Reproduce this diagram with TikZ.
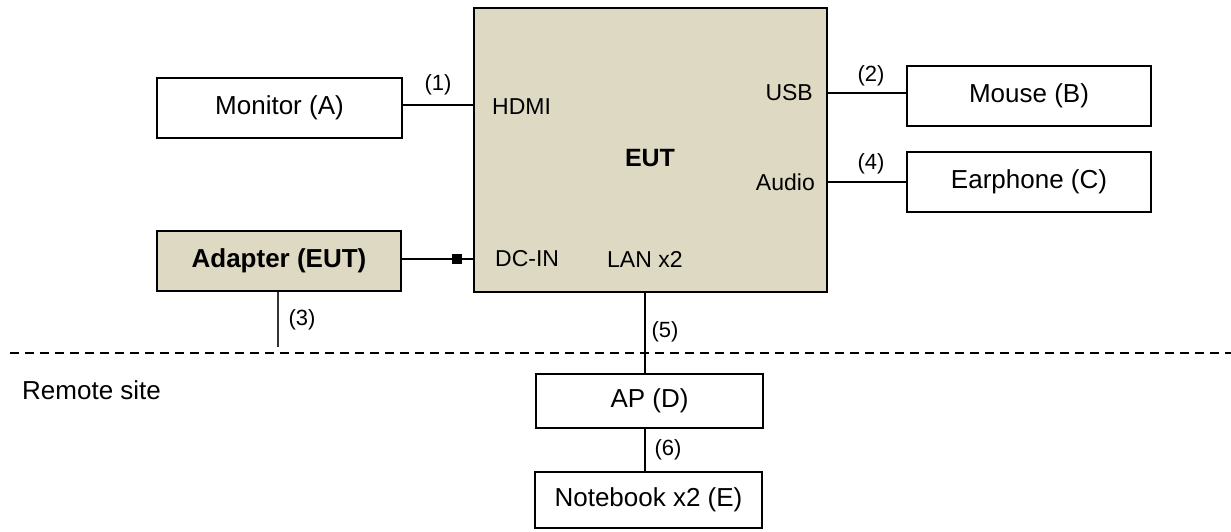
\documentclass[tikz,border=0pt]{standalone}
\usepackage{fontspec}
\setmainfont{Liberation Sans}
\definecolor{tan}{HTML}{DDD9C3}
\begin{document}
\begin{tikzpicture}[x=1pt,y=-1pt,
  devbox/.style={draw=black, line width=2pt, minimum width=#1, minimum height=60pt,
                 inner sep=0pt, font=\fontsize{26}{30}\selectfont},
  devbox/.default=245pt,
  eutbox/.style={devbox, fill=tan},
  link/.style={draw=black, line width=1.4pt},
  num/.style={inner sep=0pt, font=\fontsize{22}{26}\selectfont},
  port/.style={inner sep=0pt, font=\fontsize{23}{27}\selectfont},
]
\useasboundingbox (0,0) rectangle (1231,531);

% main unit
\node[eutbox, minimum width=353pt, minimum height=284pt] (eut) at (650.5,150) {};
\node[inner sep=0pt, font=\fontsize{25}{29}\selectfont\bfseries] (eutlbl) at (650,158) {EUT};
\node[port, anchor=west] (hdmi) at (492,107) {HDMI};
\node[port, anchor=east] (usb) at (813,93) {USB};
\node[port, anchor=east] (audio) at (815,182) {Audio};
\node[port, anchor=west] (dcin) at (495,259) {DC-IN};
\node[port, anchor=west] (lan) at (607,259) {LAN x2};

% peripherals
\node[devbox] (mon) at (279.5,108) {Monitor (A)};
\node[eutbox, minimum width=244pt, font=\fontsize{26}{30}\selectfont\bfseries] (adp) at (279,261) {Adapter (EUT)};
\node[devbox=244pt] (mouse) at (1029,96) {Mouse (B)};
\node[devbox=244pt] (ear) at (1029,182) {Earphone (C)};
\node[devbox=227pt, minimum height=54pt] (ap) at (649.5,401) {AP (D)};
\node[devbox=227pt, minimum height=56pt] (nb) at (648.5,500) {Notebook x2 (E)};

% site separator
\draw[line width=2pt, dash pattern=on 9pt off 6pt] (10,353) -- (1231,353);
\node[anchor=west, inner sep=0pt, font=\fontsize{26}{30}\selectfont] (remote) at (22,390) {Remote site};

% cables
\draw[link] ([yshift=3pt]mon.east) -- ([yshift=3pt]mon.east -| eut.west);
\node[num] (n1) at (438,85) {(1)};

\draw[link] (mouse.west |- usb) -- (usb -| eut.east);
\node[num] (n2) at (871,76) {(2)};

\draw[link] (ear.west) -- (ear.west -| eut.east);
\node[num] (n4) at (871,164) {(4)};

\draw[link] ([yshift=2pt]adp.east) -- ([yshift=2pt]adp.east -| eut.west);
\node[fill=black, minimum size=10pt, inner sep=0pt] (plug) at ([xshift=-16pt, yshift=2pt]adp.east -| eut.west) {};

\coordinate (a3end) at (278,347);
\draw[link, line width=1.3pt, draw=black!80] (adp.south -| a3end) -- (a3end);
\node[num] (n3) at (302,320) {(3)};

\draw[link, line width=1.3pt] ([xshift=-4.5pt]ap.north |- eut.south) -- ([xshift=-4.5pt]ap.north);
\node[num] (n5) at (665,332) {(5)};

\draw[link, line width=1.3pt] ([xshift=-4.5pt]ap.south) -- ([xshift=-4.5pt]ap.south |- nb.north);
\node[num] (n6) at (668,450) {(6)};
\end{tikzpicture}
\end{document}
